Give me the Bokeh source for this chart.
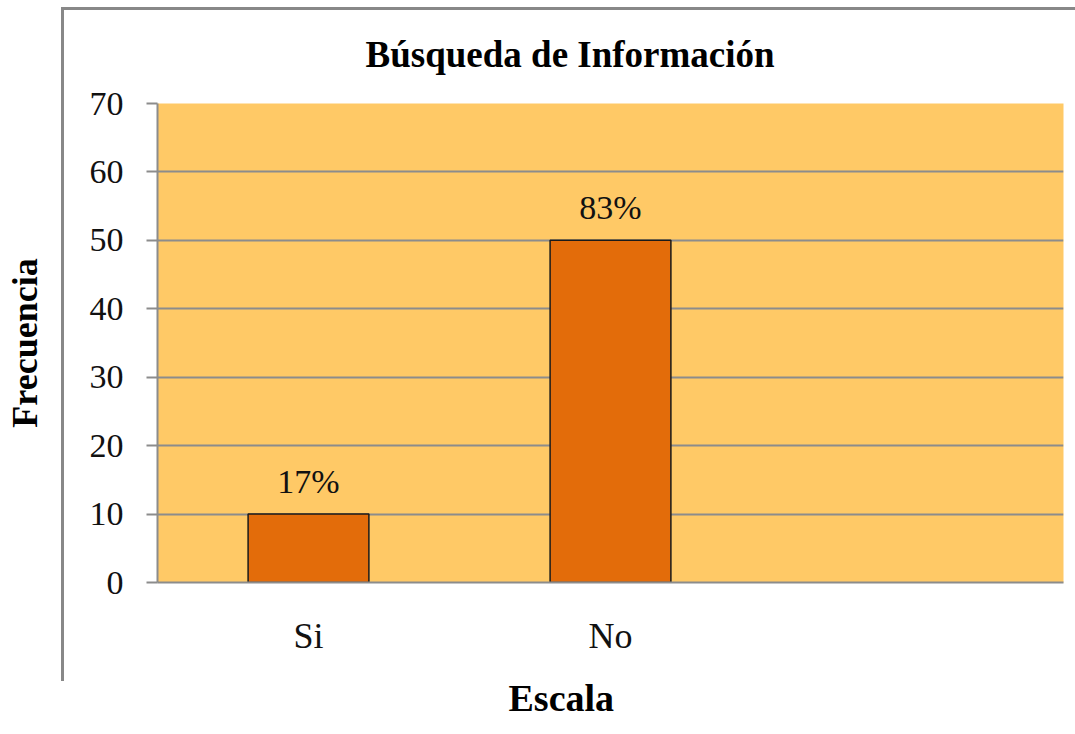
from bokeh.plotting import figure
from bokeh.models import FactorRange, Range1d, Title, FixedTicker, InlineStyleSheet, ColumnDataSource
from bokeh.embed import file_html
from bokeh.resources import INLINE

categories = ["Si", "No"]
empty_category = [" "]
values = [10, 50]
percent_labels = ["17%", "83%"]
y_ticks = [0, 10, 20, 30, 40, 50, 60, 70]
title_text = "Búsqueda de Información"
x_title = "Escala"
y_title = "Frecuencia"

FONT = "Liberation Serif"
GRID = "#8c8c8c"

src = ColumnDataSource(dict(x=categories, top=values, lab=percent_labels))

p = figure(
    width=1075, height=734,
    x_range=FactorRange(*(categories + empty_category), range_padding=0),
    y_range=Range1d(0, 70),
    output_backend="svg", toolbar_location=None,
    min_border_left=157, min_border_right=12, min_border_top=103, min_border_bottom=151,
)
p.background_fill_color = "#FFC966"
p.border_fill_color = None
p.outline_line_color = None

p.vbar(x="x", top="top", width=0.4, source=src, fill_color="#E36C0A",
       line_color="#1a1a1a", line_width=1.5)
p.text(x="x", y="top", text="lab", source=src, text_align="center",
       text_baseline="bottom", y_offset=-14, text_font=FONT,
       text_font_size="34px", text_color="#111111")

# y axis
p.yaxis.ticker = FixedTicker(ticks=y_ticks)
p.yaxis.axis_line_color = GRID
p.yaxis.axis_line_width = 2
p.yaxis.major_tick_line_color = GRID
p.yaxis.major_tick_line_width = 2
p.yaxis.major_tick_out = 11
p.yaxis.major_tick_in = 0
p.yaxis.minor_tick_line_color = None
p.yaxis.major_label_standoff = 23
p.yaxis.major_label_text_font = FONT
p.yaxis.major_label_text_font_size = "34px"
p.yaxis.major_label_text_color = "#111111"
p.yaxis.axis_label = y_title
p.yaxis.axis_label_text_font = FONT
p.yaxis.axis_label_text_font_style = "bold"
p.yaxis.axis_label_text_font_size = "36px"
p.yaxis.axis_label_text_color = "#000000"
p.yaxis.axis_label_standoff = 42

# x axis
p.xaxis.axis_line_color = GRID
p.xaxis.axis_line_width = 2
p.xaxis.major_tick_line_color = None
p.xaxis.minor_tick_line_color = None
p.xaxis.major_label_standoff = 27
p.xaxis.major_label_text_font = FONT
p.xaxis.major_label_text_font_size = "36px"
p.xaxis.major_label_text_color = "#111111"

p.xgrid.grid_line_color = None
p.ygrid.grid_line_color = GRID
p.ygrid.grid_line_width = 2

# title and x axis title, centred on the whole chart area
p.add_layout(Title(text=title_text, align="left", offset=208, standoff=58,
                   text_font=FONT, text_font_style="bold", text_font_size="37px",
                   text_color="#000000"), "above")
p.add_layout(Title(text=x_title, align="left", offset=351, standoff=32,
                   text_font=FONT, text_font_style="bold", text_font_size="38px",
                   text_color="#000000"), "below")

p.stylesheets = [InlineStyleSheet(css="""
:host { position: relative; }
:host::after { content: ""; position: absolute; left: 61px; top: 7px;
  width: 1100px; height: 674px; border-left: 3px solid #888888;
  border-top: 3px solid #888888; pointer-events: none; box-sizing: border-box; }
""")]

open("out.html", "w").write(file_html(p, INLINE))
